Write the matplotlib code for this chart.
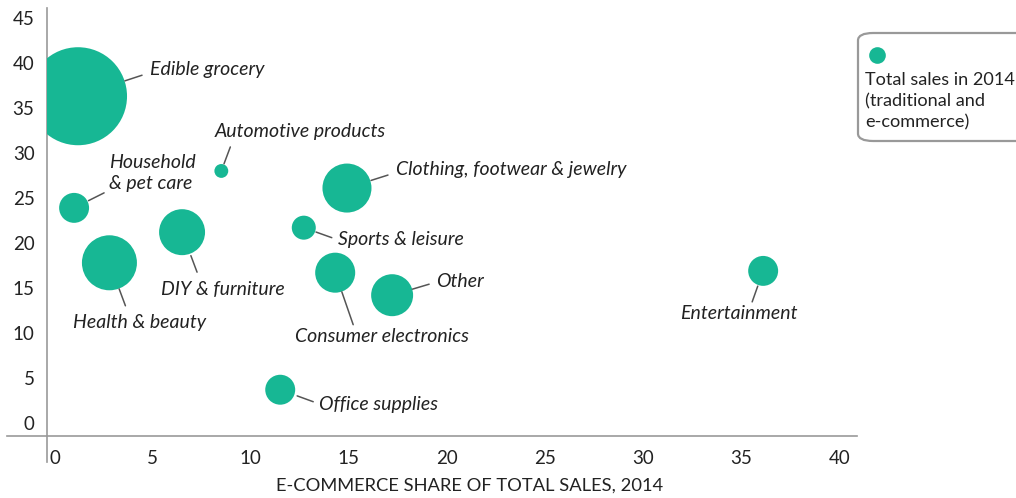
import matplotlib
matplotlib.use("Agg")
import math
import matplotlib.pyplot as plt
from matplotlib.lines import Line2D
from matplotlib.patches import FancyBboxPatch

plt.rcParams['font.family'] = ['Lato', 'DejaVu Sans']

# ---- data ----
categories = ["Edible grocery", "Household\n& pet care", "Automotive products",
              "DIY & furniture", "Health & beauty", "Office supplies",
              "Clothing, footwear & jewelry", "Sports & leisure",
              "Consumer electronics", "Other", "Entertainment"]
ecommerce_share = [1.2, 1.0, 8.5, 6.5, 2.8, 11.5, 14.9, 12.7, 14.3, 17.2, 36.1]
y_values = [36.3, 23.9, 28.0, 21.2, 17.8, 3.7, 26.1, 21.7, 16.7, 14.2, 16.9]
total_sales = [600, 56, 12, 132, 189, 56, 150, 36, 100, 110, 56]
x_ticks = [0, 5, 10, 15, 20, 25, 30, 35, 40]
y_ticks = [0, 5, 10, 15, 20, 25, 30, 35, 40, 45]
x_label = "E-COMMERCE SHARE OF TOTAL SALES, 2014"
legend_text = "Total sales in 2014\n(traditional and\ne-commerce)"

# ---- layout (offsets in pixels from bubble centre; y up) ----
line_start = [(47, 15), (14, 8), (3, 7), (10, -23), (10, -26), (17, -6),
              (24, 8), (12, -5), (7, -19), (20, 7), (-6, -15)]
line_end = [(64, 21), (30, 15), (9, 24), (15, -40), (16, -43), (33, -12),
            (41, 13), (28, -10), (18, -52), (37, 11), (-11, -31)]
text_off = [(72, 27), (35, 35), (-7, 39), (-21, -57), (-36, -60), (39, -15),
            (49, 19), (34, -12), (-40, -64), (44, 14), (-83, -43)]

TEAL = "#17b794"
GREY = "#999999"
TXT = "#222222"
PX = 0.72  # points per pixel at dpi 100

fig = plt.figure(figsize=(10.16, 4.98), dpi=100)
ax = fig.add_axes([47 / 1016, 1 - 436 / 498, (857 - 47) / 1016, (436 - 8) / 498])
ax.set_xlim(-0.38, 40.88)
ax.set_ylim(-1.44, 46.1)

ax.scatter(ecommerce_share, y_values, s=[v * 8.3 for v in total_sales],
           color=TEAL, linewidths=0, zorder=3)

for i, name in enumerate(categories):
    x, y = ecommerce_share[i], y_values[i]
    (sx, sy), (ex, ey) = line_start[i], line_end[i]
    ax.annotate("", xy=(x, y), xytext=(ex * PX, ey * PX), textcoords="offset points",
                arrowprops=dict(arrowstyle="-", color="#555555", lw=1.1,
                                shrinkA=0, shrinkB=math.hypot(sx, sy) * PX),
                annotation_clip=False, zorder=4)
    tx, ty = text_off[i]
    ax.annotate(name, xy=(x, y), xytext=(tx * PX, ty * PX), textcoords="offset points",
                ha="left", va="center", fontsize=14, style="italic", color=TXT,
                linespacing=1.3, zorder=4)

for sp in ["top", "right"]:
    ax.spines[sp].set_visible(False)
ax.spines["left"].set_color(GREY)
ax.spines["bottom"].set_color(GREY)
ax.spines["left"].set_linewidth(1.2)
ax.spines["bottom"].set_linewidth(1.2)
ax.spines["left"].set_bounds(-4.3, 46.1)
ax.spines["bottom"].set_bounds(-2.42, 40.88)

ax.set_xticks(x_ticks)
ax.set_yticks(y_ticks)
ax.tick_params(length=0, labelsize=13.5, labelcolor=TXT)
ax.tick_params(axis="y", pad=9)
ax.tick_params(axis="x", pad=10)
ax.set_xlabel(x_label, fontsize=13.2, color=TXT, labelpad=8)
ax.xaxis.label.set_x(0.522)

# legend box
box = FancyBboxPatch((858 / 1016, 1 - 141 / 498), 200 / 1016, (141 - 33) / 498,
                     boxstyle="round,pad=0,rounding_size=0.015",
                     transform=fig.transFigure, facecolor="white",
                     edgecolor="#999999", linewidth=1.6, clip_on=False)
fig.add_artist(box)
fig.add_artist(Line2D([877 / 1016], [1 - 55 / 498], marker="o", markersize=12,
                      color=TEAL, markeredgewidth=0, transform=fig.transFigure))
fig.text(865 / 1016, 1 - 101 / 498, legend_text, ha="left", va="center",
         fontsize=13.1, color=TXT, linespacing=1.38)

fig.savefig("out.png", dpi=100)
